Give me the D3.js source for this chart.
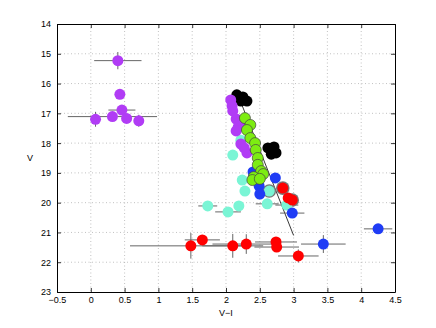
<!DOCTYPE html>
<html><head><meta charset="utf-8">
<script src="https://cdn.jsdelivr.net/npm/d3@7"></script>
<style>body{margin:0;background:#fff}svg{display:block}text{font-family:"Liberation Sans",Arial,sans-serif;font-size:9px;fill:#000}</style>
</head><body><svg id="c" width="436" height="328"></svg>
<script>
// x ticks / y ticks
const xTicks = [-0.5,0,0.5,1,1.5,2,2.5,3,3.5,4,4.5];
const yTicks = [14,15,16,17,18,19,20,21,22,23];
// series: V-I colour, V magnitude, errors
const cyanVI  = [2.22,2.10,2.24,2.28,2.64,2.61,2.90,2.19,2.03,1.73];
const cyanV   = [17.90,18.40,19.24,19.61,19.61,20.04,20.08,20.11,20.31,20.11];
const cyanXE  = [0,0,0,0,0,0.17,0.17,0,0.19,0.14];
const cyanYE  = [0,0,0,0,0,0,0,0,0,0];
const blackVI = [2.16,2.25,2.31,2.22,2.19,2.62,2.71,2.74,2.67];
const blackV  = [16.38,16.45,16.59,16.59,16.50,18.16,18.13,18.33,18.37];
const purpleVI = [0.40,0.43,0.46,0.07,0.32,0.53,0.71,2.07,2.09,2.10,2.15,2.21,2.18,2.15,2.22,2.27,2.31];
const purpleV  = [15.23,16.36,16.89,17.20,17.11,17.17,17.25,16.55,16.75,16.92,17.19,17.29,17.46,17.59,18.03,18.16,18.33];
const purpleXE = [0.35,0,0.2,0,0.66,0.05,0,0,0,0,0,0,0,0,0,0,0];
const purpleYE = [0.29,0,0.05,0.25,0.1,0,0.2,0,0,0,0,0,0,0,0,0,0];
const blueVI = [2.40,2.73,2.49,2.50,2.98,3.44,4.25];
const blueV  = [18.97,19.17,19.44,19.71,20.35,21.39,20.88];
const blueXE = [0,0,0,0,0.18,0.33,0.21];
const blueYE = [0,0,0,0,0,0.3,0.15];
const greenVI = [2.28,2.36,2.31,2.36,2.43,2.44,2.47,2.47,2.52,2.55,2.41,2.39,2.50];
const greenV  = [17.16,17.39,17.56,17.83,18.00,18.23,18.50,18.73,18.94,19.04,19.14,19.24,19.20];
const redVI = [2.84,2.98,2.92,1.48,1.65,2.10,2.30,2.74,2.75,3.07];
const redV  = [19.51,19.91,19.84,21.45,21.25,21.45,21.39,21.32,21.49,21.79];
const redXE = [0,0,0,0.9,0.26,0.45,0.5,0.31,0.33,0.3];
const redYE = [0,0,0,0.43,0.15,0.4,0.33,0.1,0.1,0.22];
const ringVI = [2.84,2.98,2.64];
const ringV  = [19.51,19.91,19.61];
const lineVI = [2.18,3.00];
const lineV  = [16.4,21.1];

const svg = d3.select("#c");
const L=57,R=395,T=24,B=292;
const x = d3.scaleLinear().domain([-0.5,4.5]).range([L,R]);
const y = d3.scaleLinear().domain([14,23]).range([T,B]);

// grid
const g = svg.append("g");
g.selectAll(".gx").data(xTicks.slice(1,-1)).join("line")
 .attr("x1",d=>x(d)).attr("x2",d=>x(d)).attr("y1",T).attr("y2",B)
 .attr("stroke","#999").attr("stroke-width",0.6).attr("stroke-dasharray","1,2.5");
g.selectAll(".gy").data(yTicks.slice(1,-1)).join("line")
 .attr("y1",d=>y(d)).attr("y2",d=>y(d)).attr("x1",L).attr("x2",R)
 .attr("stroke","#999").attr("stroke-width",0.6).attr("stroke-dasharray","1,2.5");

// axes
const ax = svg.append("g").attr("transform",`translate(0,${B})`)
 .call(d3.axisBottom(x).tickValues(xTicks).tickSizeInner(-4).tickSizeOuter(0).tickPadding(6)
   .tickFormat(d=>d<0?"\u2212"+Math.abs(d):String(d)));
const axT = svg.append("g").attr("transform",`translate(0,${T})`)
 .call(d3.axisTop(x).tickValues(xTicks).tickSizeInner(-4).tickSizeOuter(0).tickFormat(""));
const ay = svg.append("g").attr("transform",`translate(${L},0)`)
 .call(d3.axisLeft(y).tickValues(yTicks).tickSizeInner(-4).tickSizeOuter(0).tickPadding(6));
const ayR = svg.append("g").attr("transform",`translate(${R},0)`)
 .call(d3.axisRight(y).tickValues(yTicks).tickSizeInner(-4).tickSizeOuter(0).tickFormat(""));
[ax,axT,ay,ayR].forEach(a=>{a.select(".domain").attr("stroke","#000").attr("stroke-width",1);
 a.selectAll(".tick line").attr("stroke","#000").attr("stroke-width",0.8);
 a.selectAll("text").attr("font-size",9).attr("font-family","Liberation Sans, Arial, sans-serif");});
ax.selectAll("text").attr("dy","0.55em");

svg.append("text").attr("x",(L+R)/2).attr("y",316).attr("text-anchor","middle").text("V\u2212I");
svg.append("text").attr("x",30).attr("y",161).attr("text-anchor","middle").text("V");

// fitted line
svg.append("line").attr("x1",x(lineVI[0])).attr("y1",y(lineV[0])).attr("x2",x(lineVI[1])).attr("y2",y(lineV[1]))
 .attr("stroke","#222").attr("stroke-width",0.9);

const series = [
 {vi:cyanVI,v:cyanV,xe:cyanXE,ye:cyanYE,fill:"#7af5d5",stroke:"none"},
 {vi:blackVI,v:blackV,xe:null,ye:null,fill:"#000",stroke:"none"},
 {vi:purpleVI,v:purpleV,xe:purpleXE,ye:purpleYE,fill:"#b13cf5",stroke:"none"},
 {vi:blueVI,v:blueV,xe:blueXE,ye:blueYE,fill:"#1f3cf5",stroke:"none"},
 {vi:greenVI,v:greenV,xe:null,ye:null,fill:"#7ded12",stroke:"#444"},
 {vi:redVI,v:redV,xe:redXE,ye:redYE,fill:"#ff0000",stroke:"none"}
];
const eb = svg.append("g");
series.forEach(s=>{
 if(!s.xe) return;
 s.vi.forEach((d,i)=>{
  if(s.xe[i]>0) eb.append("line").attr("x1",x(d-s.xe[i])).attr("x2",x(d+s.xe[i])).attr("y1",y(s.v[i])).attr("y2",y(s.v[i])).attr("stroke","#666").attr("stroke-width",1);
  if(s.ye[i]>0) eb.append("line").attr("x1",x(d)).attr("x2",x(d)).attr("y1",y(s.v[i]-s.ye[i])).attr("y2",y(s.v[i]+s.ye[i])).attr("stroke","#666").attr("stroke-width",1);
 });
});
// rings
svg.append("g").selectAll("circle").data(ringVI).join("circle")
 .attr("cx",d=>x(d)).attr("cy",(d,i)=>y(ringV[i])).attr("r",6.8).attr("fill","#777");
series.forEach(s=>{
 svg.append("g").selectAll("circle").data(s.vi).join("circle")
  .attr("cx",d=>x(d)).attr("cy",(d,i)=>y(s.v[i])).attr("r",5.5)
  .attr("fill",s.fill).attr("stroke",s.stroke).attr("stroke-width",0.7);
});
</script></body></html>
